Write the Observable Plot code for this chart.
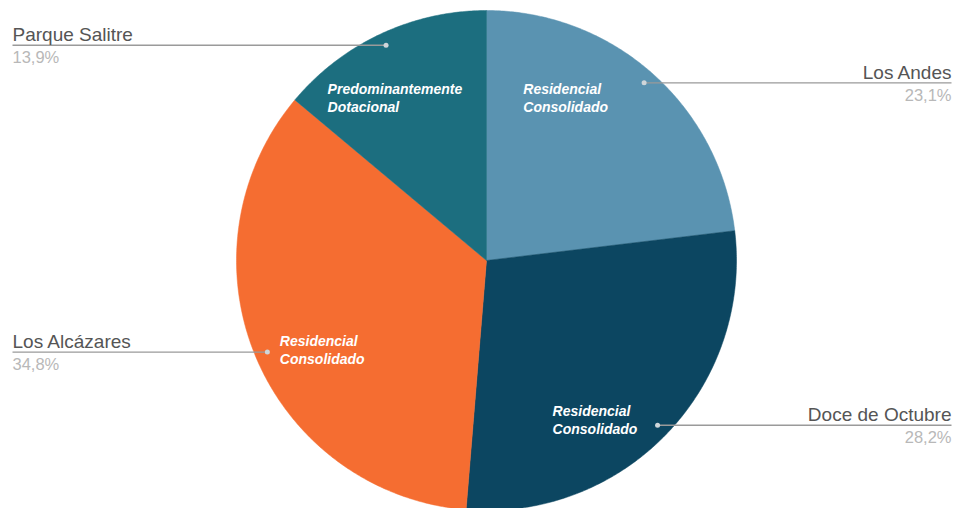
<!DOCTYPE html>
<html><head><meta charset="utf-8">
<script src="https://cdn.jsdelivr.net/npm/d3@7"></script>
<script src="https://cdn.jsdelivr.net/npm/@observablehq/plot@0.6"></script>
<style>body{margin:0;background:#fff}</style>
</head><body><div id="chart"></div>
<script>
// ---- data ----
const barrios = ["Los Andes", "Doce de Octubre", "Los Alcázares", "Parque Salitre"];
const shares = [23.1, 28.2, 34.8, 13.9];
const zonas = ["Residencial Consolidado", "Residencial Consolidado", "Residencial Consolidado", "Predominantemente Dotacional"];

// ---- style / layout ----
const palette = ["#5a93b1", "#0c4661", "#f56d31", "#1c6e7f"];
const W = 961, H = 508, cx = 486, cy = 260, R = 250;
const leftEdge = 12, rightEdge = 951;
const labelFont = "Liberation Sans, Arial, sans-serif";
// inner label placement nudges (degrees from slice mid-angle, radius fraction)
const innerAngleNudge = [-14.3, 10.5, -6.5, -2.2];
const innerRadius = [0.734, 0.78, 0.73, 0.734];

const slices = d3.pie().sort(null).value(d => d.share)(
  barrios.map((b, i) => ({barrio: b, share: shares[i], zona: zonas[i], color: palette[i]}))
);
const pt = (a, rr) => ({x: cx + rr * Math.sin(a), y: cy - rr * Math.cos(a)});

const polys = slices.map(s => {
  const pts = [pt(0, 0)];
  const n = Math.max(2, Math.ceil((s.endAngle - s.startAngle) / (Math.PI / 360)));
  for (let k = 0; k <= n; k++) pts.push(pt(s.startAngle + (s.endAngle - s.startAngle) * k / n, R));
  pts.push(pt(0, 0));
  return {pts, color: s.data.color};
});

const leaders = slices.map(s => {
  const m = (s.startAngle + s.endAngle) / 2;
  const p = pt(m, R * 0.95);
  const left = p.x < cx;
  return {x: p.x, y: p.y, x2: left ? leftEdge : rightEdge, left,
    barrio: s.data.barrio,
    pct: s.data.share.toFixed(1).replace(".", ",") + "%"};
});

const innerFontSize = 14;
const innerSpacing = 0.9;
const ctx = document.createElement("canvas").getContext("2d");
ctx.font = `italic bold ${innerFontSize}px ${labelFont}`;
const inner = slices.map((s, i) => {
  const m = (s.startAngle + s.endAngle) / 2 + innerAngleNudge[i] * Math.PI / 180;
  const p = pt(m, R * innerRadius[i]);
  const lines = s.data.zona.split(" ");
  const w = d3.max(lines, l => ctx.measureText(l).width + l.length * innerSpacing);
  return {x: p.x - w / 2, y: p.y, text: lines.join("\n")};
});

const marks = [
  ...polys.map(p => Plot.line(p.pts, {x: "x", y: "y", fill: p.color, stroke: p.color, strokeWidth: 0.5})),
  Plot.link(leaders, {x1: "x", y1: "y", x2: "x2", y2: "y", stroke: "#9a9a9a", strokeWidth: 1.4}),
  Plot.dot(leaders, {x: "x", y: "y", r: 2.5, fill: "#cfd6da", stroke: "none"}),
  ...[true, false].flatMap(side => {
    const data = leaders.filter(d => d.left === side);
    const anchor = side ? "start" : "end";
    return [
      Plot.text(data, {x: "x2", y: d => d.y - 4, text: "barrio", textAnchor: anchor,
        lineAnchor: "bottom", fontSize: 19, fill: "#555", fontFamily: labelFont}),
      Plot.text(data, {x: "x2", y: d => d.y + 6, text: "pct", textAnchor: anchor,
        lineAnchor: "top", fontSize: 16.5, fill: "#b8b8b8", fontFamily: labelFont})
    ];
  }),
  Plot.text(inner, {x: "x", y: "y", text: "text", textAnchor: "start", lineAnchor: "middle", lineHeight: 1.3,
    fontSize: innerFontSize, fontStyle: "italic", fontWeight: "bold", fill: "white", fontFamily: labelFont,
    ariaLabel: "inner-labels"})
];

const chart = Plot.plot({
  width: W, height: H, margin: 0,
  x: {domain: [0, W], range: [0, W], axis: null},
  y: {domain: [0, H], range: [0, H], axis: null},
  style: {background: "white", overflow: "hidden"},
  marks
});
d3.select(chart).selectAll('g[aria-label="inner-labels"]').attr("letter-spacing", innerSpacing);
document.getElementById("chart").appendChild(chart);
</script>
</body></html>
